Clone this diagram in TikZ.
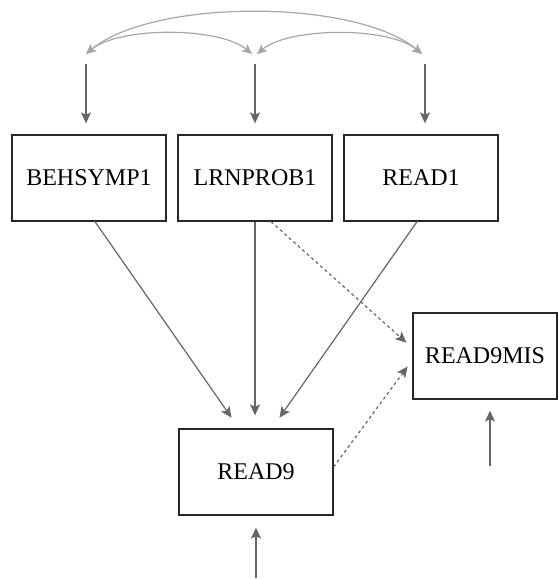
\documentclass[tikz,border=0pt]{standalone}
\usepackage{fontspec}
\setmainfont{Liberation Serif}
\usetikzlibrary{arrows.meta}

\tikzset{
  var/.style={draw=black!85, line width=1.3pt, minimum width=154pt, minimum height=86pt,
    inner sep=0pt, font=\fontsize{24}{27}\selectfont},
  path/.style={draw=black!60, line width=1.2pt, -{Stealth[length=11pt,width=10pt,inset=2.5pt]}},
  miss/.style={path, dash pattern=on 3pt off 3pt},
  cov/.style={draw=black!35, line width=1.2pt,
    {Stealth[length=10pt,width=9pt,inset=2.5pt]}-{Stealth[length=10pt,width=9pt,inset=2.5pt]}},
}

\begin{document}
\begin{tikzpicture}[x=1pt,y=-1pt]
\useasboundingbox (0,0) rectangle (559,579);

\node[var] (behsymp) at (89,178) {BEHSYMP1};
\node[var] (lrnprob) at (255,178) {LRNPROB1};
\node[var] (readone) at (421,178) {READ1};
\node[var] (readnine) at (256,472) {READ9};
\node[var, minimum width=144pt] (readmis) at (485,356) {READ9MIS};

% covariances
\coordinate (c1) at (86,54);
\coordinate (c2a) at (252,54);
\coordinate (c2b) at (257,54);
\coordinate (c3) at (422,54);
\draw[cov] (c1) to[bend left=40, looseness=0.66] (c2a);
\draw[cov] (c2b) to[bend left=40, looseness=0.66] (c3);
\draw[cov] (c1) to[bend left=40, looseness=0.66] (c3);

% exogenous inputs
\coordinate (e1) at (86,64);
\coordinate (e2) at (255,64);
\coordinate (e3) at (425,64);
\draw[path, shorten >=11pt] (e1) -- (e1 |- behsymp.north);
\draw[path, shorten >=11pt] (e2) -- (e2 |- lrnprob.north);
\draw[path, shorten >=11pt] (e3) -- (e3 |- readone.north);

% paths to READ9
\draw[path, shorten >=13pt] ([xshift=6pt]behsymp.south) -- ([xshift=-17pt]readnine.north);
\draw[path, shorten >=13pt] (lrnprob.south) -- ([xshift=-1pt]readnine.north);
\draw[path, shorten >=13pt] ([xshift=-4pt]readone.south) -- ([xshift=16pt]readnine.north);

% missingness
\draw[miss, shorten >=8pt] ([xshift=16pt]lrnprob.south) -- ([yshift=8pt]readmis.west);
\draw[miss, shorten >=8pt] ([yshift=5pt]readnine.east) -- ([yshift=-4pt]readmis.west);

% residuals
\coordinate (r1) at (256,578);
\coordinate (r2) at (490,466);
\draw[path, shorten >=12pt] (r1) -- (r1 |- readnine.south);
\draw[path, shorten >=11pt] (r2) -- (r2 |- readmis.south);
\end{tikzpicture}
\end{document}
